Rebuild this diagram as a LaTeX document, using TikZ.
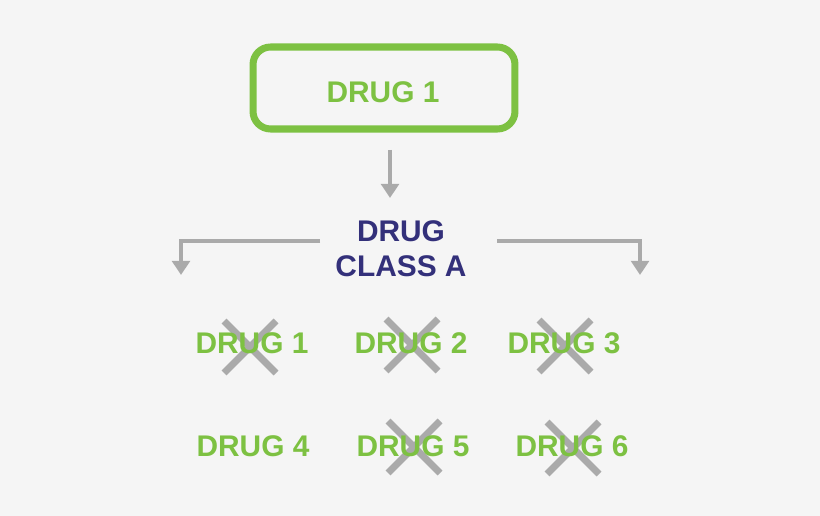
\documentclass[tikz,border=0pt]{standalone}
\usepackage{fontspec}
\setmainfont{Liberation Sans}
\usetikzlibrary{arrows.meta}
\definecolor{bg}{HTML}{F5F5F5}
\definecolor{grn}{HTML}{7DC142}
\definecolor{navy}{HTML}{33307A}
\definecolor{gry}{HTML}{AAAAAA}
\tikzset{
  drug/.style={text=grn,font=\bfseries\fontsize{17}{20}\selectfont,inner sep=0pt},
  conn/.style={draw=gry,line width=2.4pt,-{Triangle[length=8pt,width=10pt]}},
  xmark/.style={draw=gry,line width=4pt}
}
\newcommand{\crossat}[2]{\draw[xmark] (#1-26,#2-26) -- (#1+26,#2+26) (#1-26,#2+26) -- (#1+26,#2-26);}
\begin{document}
\begin{tikzpicture}[x=0.02cm,y=-0.02cm]
\fill[bg] (0,0) rectangle (820,516);
\useasboundingbox (0,0) rectangle (820,516);
\node[draw=grn,line width=4pt,rounded corners=10pt,inner sep=0pt,minimum width=5.24cm,minimum height=1.64cm] (top) at (384,88) {};
\node[drug] (d0) at (383,92) {DRUG 1};
\coordinate (a1) at (390,150);
\coordinate (a2) at (390,198);
\draw[conn] (a1) -- (a2);
\node[text=navy,font=\bfseries\fontsize{17}{20}\selectfont,align=center,inner sep=0pt] (cls) at (401,249) {DRUG\\CLASS A};
\coordinate (l1) at (320,241); \coordinate (l2) at (181,241); \coordinate (l3) at (181,275);
\coordinate (r1) at (497,241); \coordinate (r2) at (640,241); \coordinate (r3) at (640,275);
\draw[conn] (l1) -- (l2) -- (l3);
\draw[conn] (r1) -- (r2) -- (r3);
\crossat{250}{347}
\crossat{412}{345}
\crossat{565}{346}
\crossat{414}{447}
\crossat{573}{448}
\node[drug] (d1) at (252,343) {DRUG 1};
\node[drug] (d2) at (411,343) {DRUG 2};
\node[drug] (d3) at (564,343) {DRUG 3};
\node[drug] (d4) at (253,446) {DRUG 4};
\node[drug] (d5) at (413,446) {DRUG 5};
\node[drug] (d6) at (572,446) {DRUG 6};
\end{tikzpicture}
\end{document}
